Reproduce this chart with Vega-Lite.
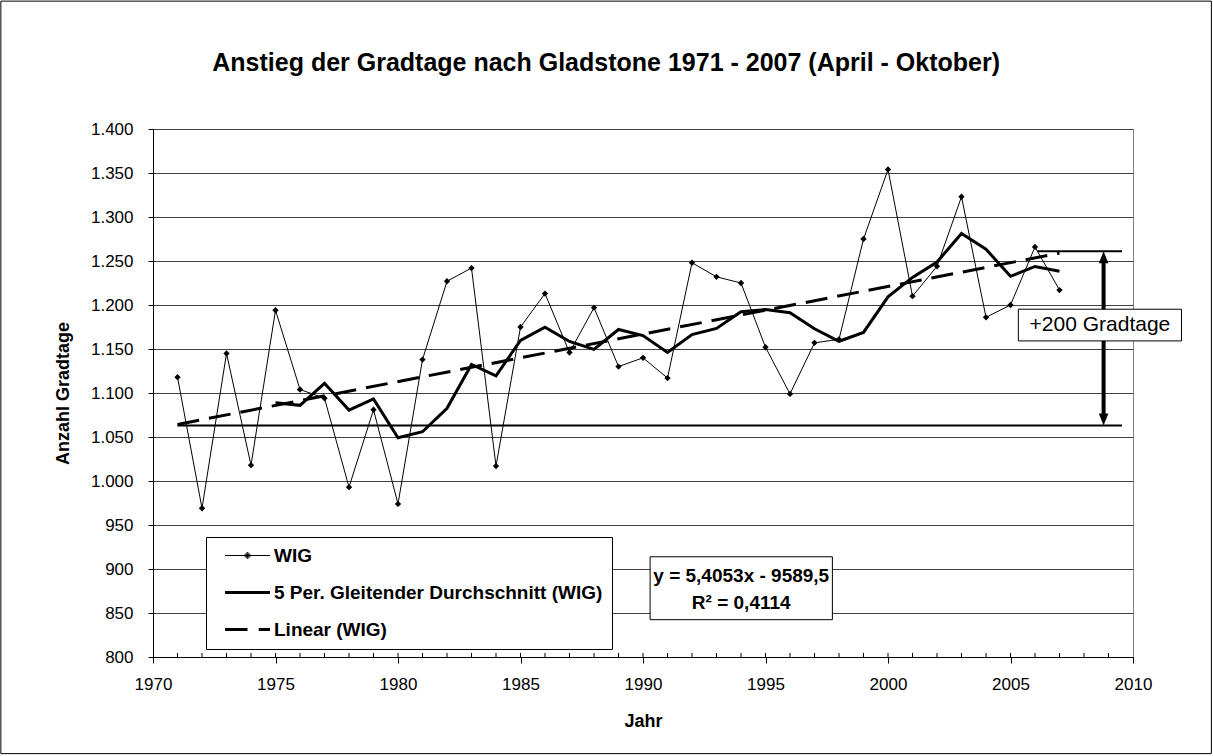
{
  "$schema": "https://vega.github.io/schema/vega-lite/v6.json",
  "width": 980,
  "height": 528,
  "autosize": "none",
  "padding": {"left": 153, "top": 129, "right": 80, "bottom": 99},
  "background": "white",
  "title": {
    "text": "Anstieg der Gradtage nach Gladstone 1971 - 2007 (April - Oktober)",
    "font": "Liberation Sans",
    "fontSize": 25,
    "fontWeight": "bold",
    "color": "black",
    "anchor": "middle",
    "frame": "bounds",
    "offset": -75
  },
  "config": {
    "font": "Liberation Sans",
    "view": {"stroke": "#808080", "strokeWidth": 1},
    "axis": {"labelFont": "Liberation Sans", "titleFont": "Liberation Sans", "labelColor": "black", "titleColor": "black"}
  },
  "datasets": {
    "wig": [
      {"year": 1971, "value": 1118}, {"year": 1972, "value": 969}, {"year": 1973, "value": 1145},
      {"year": 1974, "value": 1018}, {"year": 1975, "value": 1194}, {"year": 1976, "value": 1104},
      {"year": 1977, "value": 1094}, {"year": 1978, "value": 993}, {"year": 1979, "value": 1081},
      {"year": 1980, "value": 974}, {"year": 1981, "value": 1138}, {"year": 1982, "value": 1227},
      {"year": 1983, "value": 1242}, {"year": 1984, "value": 1017}, {"year": 1985, "value": 1175},
      {"year": 1986, "value": 1213}, {"year": 1987, "value": 1146}, {"year": 1988, "value": 1197},
      {"year": 1989, "value": 1130}, {"year": 1990, "value": 1140}, {"year": 1991, "value": 1117},
      {"year": 1992, "value": 1248}, {"year": 1993, "value": 1232}, {"year": 1994, "value": 1225},
      {"year": 1995, "value": 1152}, {"year": 1996, "value": 1099}, {"year": 1997, "value": 1157},
      {"year": 1998, "value": 1161}, {"year": 1999, "value": 1275}, {"year": 2000, "value": 1354},
      {"year": 2001, "value": 1210}, {"year": 2002, "value": 1244}, {"year": 2003, "value": 1323},
      {"year": 2004, "value": 1186}, {"year": 2005, "value": 1200}, {"year": 2006, "value": 1266},
      {"year": 2007, "value": 1217}
    ],
    "ma": [
      {"year": 1975, "value": 1088.8}, {"year": 1976, "value": 1086}, {"year": 1977, "value": 1111},
      {"year": 1978, "value": 1080.6}, {"year": 1979, "value": 1093.2}, {"year": 1980, "value": 1049.2},
      {"year": 1981, "value": 1056}, {"year": 1982, "value": 1082.6}, {"year": 1983, "value": 1132.4},
      {"year": 1984, "value": 1119.6}, {"year": 1985, "value": 1159.8}, {"year": 1986, "value": 1174.8},
      {"year": 1987, "value": 1158.6}, {"year": 1988, "value": 1149.6}, {"year": 1989, "value": 1172.2},
      {"year": 1990, "value": 1165.2}, {"year": 1991, "value": 1146}, {"year": 1992, "value": 1166.4},
      {"year": 1993, "value": 1173.4}, {"year": 1994, "value": 1192.4}, {"year": 1995, "value": 1194.8},
      {"year": 1996, "value": 1191.2}, {"year": 1997, "value": 1173}, {"year": 1998, "value": 1158.8},
      {"year": 1999, "value": 1168.8}, {"year": 2000, "value": 1209.2}, {"year": 2001, "value": 1231.4},
      {"year": 2002, "value": 1248.8}, {"year": 2003, "value": 1281.2}, {"year": 2004, "value": 1263.4},
      {"year": 2005, "value": 1232.6}, {"year": 2006, "value": 1243.8}, {"year": 2007, "value": 1238.4}
    ],
    "trend": [{"year": 1971, "value": 1064.3}, {"year": 2007, "value": 1258.9}],
    "hlines": [
      {"year": 1971, "year2": 2009.55, "value": 1063},
      {"year": 2006.1, "year2": 2009.55, "value": 1261}
    ],
    "minorticks": [
      {"year": 1971}, {"year": 1972}, {"year": 1973}, {"year": 1974}, {"year": 1975}, {"year": 1976},
      {"year": 1977}, {"year": 1978}, {"year": 1979}, {"year": 1980}, {"year": 1981}, {"year": 1982},
      {"year": 1983}, {"year": 1984}, {"year": 1985}, {"year": 1986}, {"year": 1987}, {"year": 1988},
      {"year": 1989}, {"year": 1990}, {"year": 1991}, {"year": 1992}, {"year": 1993}, {"year": 1994},
      {"year": 1995}, {"year": 1996}, {"year": 1997}, {"year": 1998}, {"year": 1999}, {"year": 2000},
      {"year": 2001}, {"year": 2002}, {"year": 2003}, {"year": 2004}, {"year": 2005}, {"year": 2006},
      {"year": 2007}, {"year": 2008}, {"year": 2009}
    ],
    "legend": [
      {"series": "WIG"},
      {"series": "5 Per. Gleitender Durchschnitt (WIG)"},
      {"series": "Linear (WIG)"}
    ],
    "single": [{"id": 1}]
  },
  "layer": [
    {
      "data": {"name": "single"},
      "mark": {"type": "rect", "fill": "transparent", "stroke": "black", "strokeWidth": 1, "clip": false},
      "encoding": {
        "x": {"datum": 1963.79, "type": "quantitative", "scale": {"domain": [1970, 2010], "nice": false, "zero": false}},
        "x2": {"datum": 2013.2},
        "y": {"datum": 1545.3, "type": "quantitative", "scale": {"domain": [800, 1400], "nice": false, "zero": false}},
        "y2": {"datum": 690.2}
      }
    },
    {
      "data": {"name": "wig"},
      "mark": {"type": "line", "color": "black", "strokeWidth": 1},
      "encoding": {
        "x": {
          "field": "year", "type": "quantitative",
          "scale": {"domain": [1970, 2010], "nice": false, "zero": false},
          "axis": {
            "values": [1970, 1975, 1980, 1985, 1990, 1995, 2000, 2005, 2010],
            "format": "d", "grid": false, "labelFlush": false, "labelOverlap": false,
            "tickSize": 6, "tickColor": "black", "domainColor": "black",
            "labelFontSize": 17, "labelPadding": 13,
            "title": "Jahr", "titleFontSize": 18, "titleFontWeight": "bold",
            "titleX": 490, "titleY": 64, "titleBaseline": "middle", "titleAlign": "center"
          }
        },
        "y": {
          "field": "value", "type": "quantitative",
          "scale": {"domain": [800, 1400], "nice": false, "zero": false},
          "axis": {
            "values": [800, 850, 900, 950, 1000, 1050, 1100, 1150, 1200, 1250, 1300, 1350, 1400],
            "labelExpr": "replace(format(datum.value, ','), ',', '.')",
            "grid": true, "gridColor": "#404040", "gridWidth": 1,
            "labelFlush": false, "labelOverlap": false,
            "tickSize": 5, "tickColor": "black", "domainColor": "black",
            "labelFontSize": 17, "labelPadding": 15,
            "title": "Anzahl Gradtage", "titleFontSize": 18, "titleFontWeight": "bold",
            "titleX": -90, "titleY": 264, "titleAngle": -90, "titleBaseline": "middle", "titleAlign": "center"
          }
        }
      }
    },
    {
      "data": {"name": "minorticks"},
      "mark": {"type": "rule", "color": "black", "strokeWidth": 1},
      "encoding": {
        "x": {"field": "year", "type": "quantitative"},
        "y": {"datum": 800, "type": "quantitative"},
        "y2": {"datum": 804.5}
      }
    },
    {
      "data": {"name": "hlines"},
      "mark": {"type": "rule", "color": "black", "strokeWidth": 2},
      "encoding": {
        "x": {"field": "year", "type": "quantitative"},
        "x2": {"field": "year2"},
        "y": {"field": "value", "type": "quantitative"}
      }
    },
    {
      "data": {"name": "wig"},
      "mark": {"type": "point", "shape": "diamond", "filled": true, "color": "black", "size": 40, "opacity": 1},
      "encoding": {
        "x": {"field": "year", "type": "quantitative"},
        "y": {"field": "value", "type": "quantitative"}
      }
    },
    {
      "data": {"name": "ma"},
      "mark": {"type": "line", "color": "black", "strokeWidth": 3},
      "encoding": {
        "x": {"field": "year", "type": "quantitative"},
        "y": {"field": "value", "type": "quantitative"}
      }
    },
    {
      "data": {"name": "trend"},
      "mark": {"type": "line", "color": "black", "strokeWidth": 3, "strokeDash": [22, 10]},
      "encoding": {
        "x": {"field": "year", "type": "quantitative"},
        "y": {"field": "value", "type": "quantitative"}
      }
    },
    {
      "data": {"name": "single"},
      "mark": {"type": "rule", "color": "black", "strokeWidth": 4},
      "encoding": {
        "x": {"datum": 2008.8, "type": "quantitative"},
        "y": {"datum": 1069.8, "type": "quantitative"},
        "y2": {"datum": 1254.2}
      }
    },
    {
      "data": {"name": "single"},
      "mark": {"type": "point", "shape": "M0,-1L0.8,1L-0.8,1Z", "filled": true, "color": "black", "size": 144, "opacity": 1},
      "encoding": {
        "x": {"datum": 2008.8, "type": "quantitative"},
        "y": {"datum": 1254.2, "type": "quantitative"}
      }
    },
    {
      "data": {"name": "single"},
      "mark": {"type": "point", "shape": "M0,1L0.8,-1L-0.8,-1Z", "filled": true, "color": "black", "size": 144, "opacity": 1},
      "encoding": {
        "x": {"datum": 2008.8, "type": "quantitative"},
        "y": {"datum": 1069.8, "type": "quantitative"}
      }
    },
    {
      "data": {"name": "single"},
      "mark": {"type": "rect", "fill": "white", "stroke": "black", "strokeWidth": 1, "clip": false},
      "encoding": {
        "x": {"datum": 2005.32, "type": "quantitative"},
        "x2": {"datum": 2011.98},
        "y": {"datum": 1195.2, "type": "quantitative"},
        "y2": {"datum": 1159.2}
      }
    },
    {
      "data": {"name": "single"},
      "mark": {"type": "text", "text": "+200 Gradtage", "font": "Liberation Sans", "fontSize": 21, "color": "black", "align": "center", "baseline": "middle", "clip": false},
      "encoding": {
        "x": {"datum": 2008.65, "type": "quantitative"},
        "y": {"datum": 1177.4, "type": "quantitative"}
      }
    },
    {
      "data": {"name": "single"},
      "mark": {"type": "rect", "fill": "white", "stroke": "black", "strokeWidth": 1},
      "encoding": {
        "x": {"datum": 1990.29, "type": "quantitative"},
        "x2": {"datum": 1997.73},
        "y": {"datum": 913.9, "type": "quantitative"},
        "y2": {"datum": 842.4}
      }
    },
    {
      "data": {"name": "single"},
      "mark": {"type": "text", "text": "y = 5,4053x - 9589,5", "font": "Liberation Sans", "fontSize": 19, "fontWeight": "bold", "color": "black", "align": "center", "baseline": "middle"},
      "encoding": {
        "x": {"datum": 1994.01, "type": "quantitative"},
        "y": {"datum": 891.5, "type": "quantitative"}
      }
    },
    {
      "data": {"name": "single"},
      "mark": {"type": "text", "text": "R² = 0,4114", "font": "Liberation Sans", "fontSize": 19, "fontWeight": "bold", "color": "black", "align": "center", "baseline": "middle"},
      "encoding": {
        "x": {"datum": 1994.01, "type": "quantitative"},
        "y": {"datum": 861.3, "type": "quantitative"}
      }
    },
    {
      "data": {"name": "legend"},
      "mark": {"type": "point", "filled": false, "stroke": "black", "color": "black", "opacity": 0},
      "encoding": {
        "x": {"datum": 2000, "type": "quantitative"},
        "y": {"datum": 1000, "type": "quantitative"},
        "shape": {
          "field": "series", "type": "nominal",
          "scale": {
            "domain": ["WIG", "5 Per. Gleitender Durchschnitt (WIG)", "Linear (WIG)"],
            "range": ["M-3,0H3M0,-0.45L0.45,0L0,0.45L-0.45,0ZM-0.3,0H0.3M0,-0.3V0.3M-0.15,-0.15H0.15M-0.15,0.15H0.15M-0.15,-0.15V0.15M0.15,-0.15V0.15", "M-3,0H3", "M-3,0H0M1.5,0H3"]
          },
          "legend": {
            "title": null, "orient": "none", "legendX": 53, "legendY": 408,
            "fillColor": "white", "strokeColor": "black", "padding": 9,
            "rowPadding": 17, "symbolSize": 225, "symbolOffset": 23, "labelOffset": 17,
            "labelFont": "Liberation Sans", "labelFontSize": 19, "labelFontWeight": "bold",
            "labelColor": "black", "labelLimit": 0,
            "symbolFillColor": "black", "symbolStrokeColor": "black", "symbolOpacity": 1
          }
        },
        "strokeWidth": {
          "field": "series", "type": "nominal",
          "scale": {
            "type": "ordinal",
            "domain": ["WIG", "5 Per. Gleitender Durchschnitt (WIG)", "Linear (WIG)"],
            "range": [1, 3, 3]
          },
          "legend": {
            "title": null, "orient": "none", "legendX": 53, "legendY": 408,
            "fillColor": "white", "strokeColor": "black", "padding": 9,
            "rowPadding": 17, "symbolSize": 225, "symbolOffset": 23, "labelOffset": 17,
            "labelFont": "Liberation Sans", "labelFontSize": 19, "labelFontWeight": "bold",
            "labelColor": "black", "labelLimit": 0,
            "symbolFillColor": "black", "symbolStrokeColor": "black", "symbolOpacity": 1
          }
        }
      }
    }
  ]
}
